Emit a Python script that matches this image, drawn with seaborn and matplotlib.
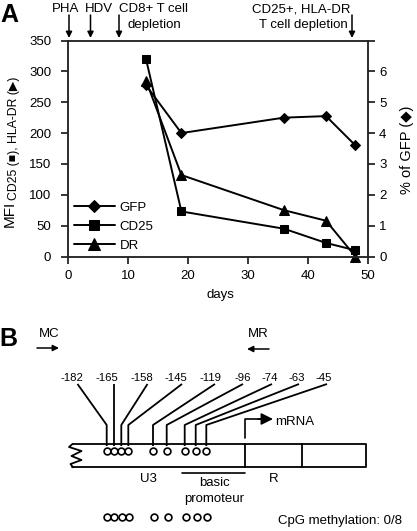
import matplotlib
matplotlib.use('Agg')
import matplotlib.pyplot as plt
import pandas as pd
import seaborn as sns

sns.set_theme(style='ticks')
plt.rcParams['font.family'] = ['Liberation Sans', 'DejaVu Sans']
plt.rcParams['font.size'] = 9.5
plt.rcParams['axes.linewidth'] = 1.1
plt.rcParams['xtick.labelsize'] = 9.5
plt.rcParams['ytick.labelsize'] = 9.5

W, H = 417, 531

days = [13, 18.9, 36, 43, 47.9]
gfp = [5.55, 4.0, 4.5, 4.55, 3.6]
cd25 = [320, 73, 45, 22, 10]
dr = [285, 132, 75, 58, 0]

site_labels = ['-182', '-165', '-158', '-145', '-119', '-96', '-74', '-63', '-45']
site_x = [106.7, 114, 121.3, 128.3, 153, 166.7, 184.7, 195.7, 206.3]
label_x = [72.3, 107, 141.7, 176.3, 210.7, 242.3, 269.3, 296.7, 323.3]
leader_x = [77.5, 114, 147.5, 182, 215, 243, 272, 299, 327]
meth_x = [107.3, 114.3, 121.7, 129, 153.7, 168, 185.7, 196.7, 207]

df = pd.DataFrame({'days': days, 'GFP': gfp, 'CD25': cd25, 'DR': dr})

fig = plt.figure(figsize=(W / 100, H / 100), dpi=100)
ax = fig.add_axes([68 / W, 1 - 256.5 / H, 300 / W, 216 / H])
ax2 = ax.twinx()

sns.lineplot(data=df, x='days', y='CD25', ax=ax, color='black', lw=1.4, marker='s',
             ms=5.6, mec='black', label='CD25', legend=False, clip_on=False)
sns.lineplot(data=df, x='days', y='DR', ax=ax, color='black', lw=1.4, marker='^',
             ms=6.5, mec='black', label='DR', legend=False, clip_on=False)
sns.lineplot(data=df, x='days', y='GFP', ax=ax2, color='black', lw=1.4, marker='D',
             ms=4.6, mec='black', label='GFP', legend=False, clip_on=False)

for a in (ax, ax2):
    a.spines['top'].set_visible(True)
    a.spines['right'].set_visible(True)
    a.tick_params(length=5, width=1.1, color='black', labelcolor='black', pad=3)
ax.tick_params(axis='y', pad=7)
ax.tick_params(axis='x', pad=5)

ax.set_xlim(0, 50)
ax.set_ylim(0, 350)
ax.set_xticks([0, 10, 20, 30, 40, 50])
ax.set_yticks([0, 50, 100, 150, 200, 250, 300, 350])
ax.set_xlabel('')
ax.set_ylabel('')
ax2.set_ylim(0, 7)
ax2.set_yticks([0, 1, 2, 3, 4, 5, 6, 7], ['0', '1', '2', '3', '4', '5', '6', ''])
ax2.set_ylabel('')

h1, l1 = ax.get_legend_handles_labels()
h2, l2 = ax2.get_legend_handles_labels()
ax2.legend(h2 + h1, l2 + l1, loc='lower left', bbox_to_anchor=(0.02, 0.022), frameon=False,
           handlelength=3.1, handletextpad=0.35, labelspacing=0.5, borderpad=0,
           borderaxespad=0, markerscale=1.3, fontsize=9.5, labelcolor='black')

# overlay in pixel coordinates for annotations and the LTR diagram
ov = fig.add_axes([0, 0, 1, 1], zorder=5)
ov.set_xlim(0, W)
ov.set_ylim(H, 0)
ov.axis('off')
ov.patch.set_alpha(0)


def arrow(x0, y0, x1, y1, lw=1.1, scale=9):
    ov.annotate('', xy=(x1, y1), xytext=(x0, y0),
                arrowprops=dict(arrowstyle='-|>', color='black', lw=lw, mutation_scale=scale,
                                shrinkA=0, shrinkB=0))


def txt(x, y, s, size=9.5, ha='center', **kw):
    ov.text(x, y, s, fontsize=size, ha=ha, va='center', color='black', **kw)


txt(9.5, 15, 'A', size=18, fontweight='bold')
txt(8, 339, 'B', size=18, fontweight='bold')

# top labels of panel A
txt(66, 9, 'PHA')
txt(99, 9, 'HDV')
txt(154, 9, 'CD8+ T cell')
txt(154.5, 25, 'depletion')
txt(301.5, 9, 'CD25+, HLA-DR')
txt(303, 25, 'T cell depletion')
for x in [69, 90.5, 119, 352]:
    arrow(x, 15, x, 38)

# axis titles
txt(220, 295, 'days')
ov.text(9.5, 227, 'MFI', fontsize=11, rotation=90, ha='center', va='bottom', color='black')
ov.text(14, 200, 'CD25 (■), HLA-DR (▶)', fontsize=8.8, rotation=90, ha='center', va='bottom',
        color='black')
ov.text(407, 150, '% of GFP (◆)', fontsize=10.5, rotation=90, ha='center', va='center',
        color='black')

# panel B primers
txt(49.5, 334, 'MC')
arrow(37, 348, 59, 348)
txt(258.5, 334, 'MR')
arrow(269, 349, 247, 349)

# site labels and leaders
for s, lx, tx, sx in zip(site_labels, label_x, leader_x, site_x):
    txt(lx, 378, s, size=8.2)
    ov.plot([tx, sx, sx], [384, 425, 446], color='black', lw=1.3, solid_capstyle='butt')

# LTR box
ov.plot([73, 366, 366, 72], [444, 444, 467.3, 467.3], color='black', lw=1.3)
ov.plot([72.5, 69, 81.5, 71.5, 81.5, 70.5, 73], [444, 447, 451, 456, 460, 464, 467.3],
        color='black', lw=1.3)
ov.plot([245, 245], [444, 467.3], color='black', lw=1.3)
ov.plot([302, 302], [444, 467.3], color='black', lw=1.3)

ov.scatter(site_x, [451] * len(site_x), s=24, facecolor='white', edgecolor='black', lw=1.2, zorder=3)
ov.scatter(meth_x, [517] * len(meth_x), s=24, facecolor='white', edgecolor='black', lw=1.2, zorder=3)

# transcription start
ov.plot([245, 245, 262], [438, 419, 419], color='black', lw=1.2)
arrow(258, 419, 273, 419, scale=18)
txt(275, 422, 'mRNA', ha='left')

txt(148, 479, 'U3')
ov.plot([182, 245], [472.7, 472.7], color='black', lw=1.2)
txt(214.5, 483, 'basic')
txt(214.5, 499, 'promoteur')
txt(274, 479, 'R')
txt(402, 521, 'CpG methylation: 0/8', ha='right')

fig.savefig('out.png', dpi=100)
